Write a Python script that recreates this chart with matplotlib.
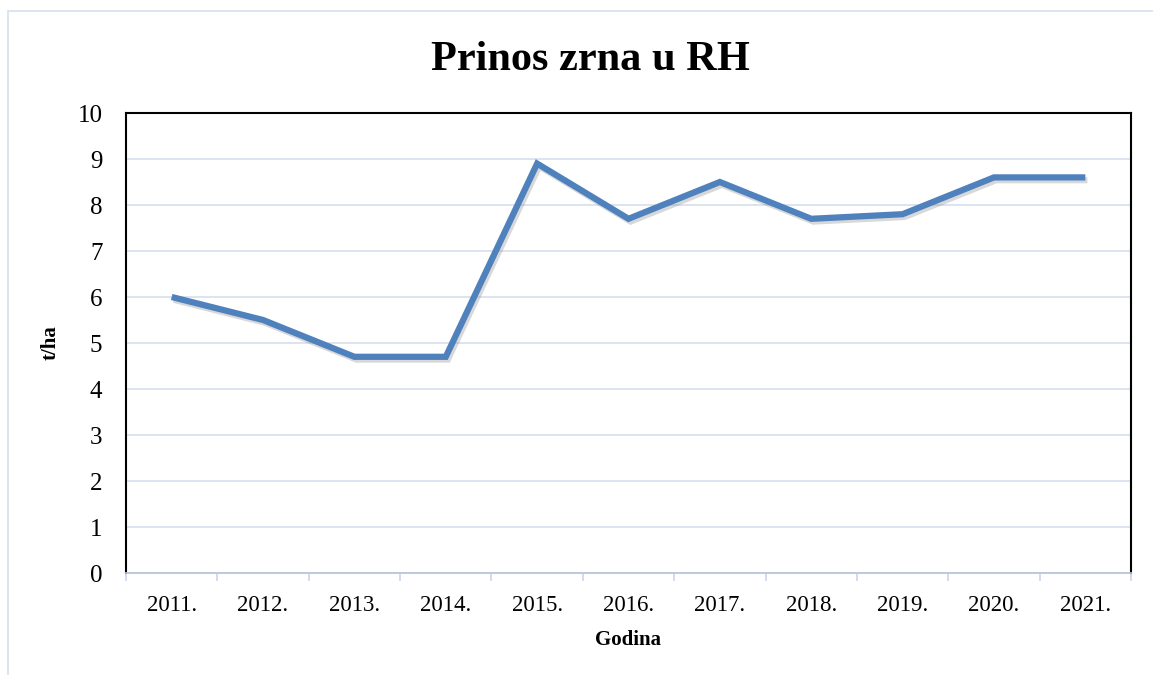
import matplotlib
matplotlib.use("Agg")
import matplotlib.pyplot as plt
import matplotlib.patheffects as pe
from matplotlib.patches import Rectangle

years = ["2011.", "2012.", "2013.", "2014.", "2015.", "2016.", "2017.", "2018.", "2019.", "2020.", "2021."]
yields = [6.0, 5.5, 4.7, 4.7, 8.9, 7.7, 8.5, 7.7, 7.8, 8.6, 8.6]
y_ticks = list(range(0, 11))

plt.rcParams['font.family'] = ['Liberation Serif', 'DejaVu Serif']

fig = plt.figure(figsize=(11.53, 6.75), dpi=100)
fig.patches.append(Rectangle((8/1153, -0.1), 1.2, (675-11)/675 + 0.1, transform=fig.transFigure,
                             fill=False, edgecolor='#D6DFEE', linewidth=1.2))
ax = fig.add_axes([126/1153, 1-573/675, (1131-126)/1153, (573-113)/675])

x = list(range(len(years)))
ax.plot(x, yields, color='#4F81BD', linewidth=4.5, solid_joinstyle='miter', solid_capstyle='butt',
        path_effects=[pe.SimpleLineShadow(offset=(1.5, -2), shadow_color='#808080', alpha=0.3), pe.Normal()],
        zorder=3)

ax.set_xlim(-0.5, len(years) - 0.5)
ax.set_ylim(0, 10)
ax.set_yticks(y_ticks)
ax.set_yticklabels([str(v) for v in y_ticks], fontsize=18)
ax.set_xticks(x)
ax.set_xticklabels(years, fontsize=16.5)
ax.tick_params(axis='y', length=0, pad=17)
ax.tick_params(axis='x', length=0, pad=16)
# category boundary ticks
ax.set_xticks([i - 0.5 for i in range(len(years) + 1)], minor=True)
ax.tick_params(axis='x', which='minor', length=6, color='#C9D5E8', width=1.2)

ax.grid(axis='y', color='#D9E2F1', linewidth=1.3)
ax.set_axisbelow(True)
for s in ['left', 'top', 'right']:
    ax.spines[s].set_color('black')
    ax.spines[s].set_linewidth(1.5)
ax.spines['bottom'].set_color('#B9C6DA')
ax.spines['bottom'].set_linewidth(1.3)

ax.set_xlabel('Godina', fontsize=15, fontweight='bold', labelpad=10)
ax.set_ylabel('t/ha', fontsize=15, fontweight='bold', labelpad=12)
fig.text(590/1153, 1-60/675, 'Prinos zrna u RH', fontsize=30.5, fontweight='bold', ha='center', va='center')

fig.savefig('out.png', dpi=100)
